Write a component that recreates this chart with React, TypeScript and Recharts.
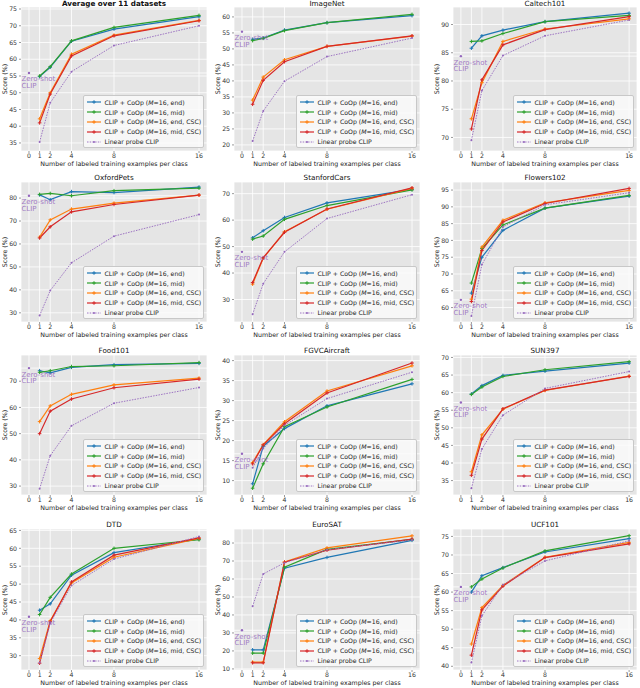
import React from 'react'
import { LineChart, Line, XAxis, YAxis, CartesianGrid, ReferenceLine } from 'recharts'

const datasets = [
  'Average over 11 datasets', 'ImageNet', 'Caltech101', 'OxfordPets', 'StanfordCars', 'Flowers102',
  'Food101', 'FGVCAircraft', 'SUN397', 'DTD', 'EuroSAT', 'UCF101',
]
const shots = [1, 2, 4, 8, 16]
const xTicks = [0, 1, 2, 4, 8, 16]
const zeroShot = [55.9, 55.4, 84.4, 81.0, 48.0, 62.3, 75.0, 16.7, 57.2, 40.9, 31.5, 61.4]

const coopEnd = [
  [54.8, 57.6, 65.4, 69.0, 72.7],
  [53.0, 53.4, 55.9, 58.2, 60.4],
  [85.8, 88.0, 89.0, 90.5, 92.0],
  [81.4, 79.3, 82.8, 82.4, 84.8],
  [53.3, 56.0, 61.0, 66.5, 71.6],
  [64.3, 75.0, 83.0, 89.6, 93.2],
  [74.0, 73.2, 75.3, 76.3, 76.8],
  [9.2, 18.6, 23.0, 28.7, 34.2],
  [59.6, 62.0, 64.9, 66.1, 68.4],
  [42.7, 44.5, 52.5, 58.8, 62.6],
  [20.6, 20.6, 66.0, 72.0, 81.5],
  [60.0, 64.4, 66.6, 70.8, 74.4],
]
const coopMid = [
  [55.0, 57.8, 65.5, 69.5, 73.1],
  [52.6, 53.3, 55.7, 58.2, 60.8],
  [87.0, 87.1, 88.4, 90.5, 91.6],
  [81.6, 82.0, 81.0, 83.2, 84.3],
  [52.8, 54.0, 60.3, 65.5, 71.4],
  [67.3, 77.6, 84.6, 89.6, 93.4],
  [73.4, 74.0, 75.6, 75.9, 77.1],
  [8.1, 14.2, 23.5, 28.4, 35.3],
  [59.5, 61.6, 64.6, 66.5, 68.8],
  [41.5, 46.3, 52.8, 60.0, 62.4],
  [18.8, 18.8, 66.5, 76.5, 82.0],
  [61.4, 63.5, 66.5, 71.1, 75.2],
]
const coopEndCsc = [
  [42.2, 50.0, 61.5, 67.2, 71.6],
  [34.0, 41.2, 46.6, 50.8, 54.0],
  [73.3, 79.7, 87.0, 89.2, 91.0],
  [63.0, 70.5, 75.2, 77.8, 81.3],
  [35.8, 45.6, 55.6, 64.1, 72.0],
  [62.5, 78.0, 86.0, 91.2, 94.9],
  [54.6, 60.6, 65.0, 68.6, 71.2],
  [14.5, 19.0, 24.7, 32.4, 38.7],
  [37.5, 48.0, 55.3, 60.6, 64.7],
  [29.2, 39.8, 50.3, 57.5, 62.8],
  [13.8, 13.8, 69.5, 77.3, 84.0],
  [46.0, 55.8, 61.8, 69.4, 73.4],
]
const coopMidCsc = [
  [41.0, 49.6, 61.0, 67.0, 71.5],
  [32.7, 40.2, 46.0, 50.8, 54.1],
  [71.5, 80.2, 86.4, 89.1, 91.4],
  [62.6, 67.5, 74.0, 77.2, 81.3],
  [36.4, 45.8, 55.4, 64.2, 72.2],
  [61.8, 77.0, 85.5, 91.0, 95.5],
  [50.0, 58.6, 63.2, 67.5, 70.8],
  [14.2, 18.9, 24.2, 31.9, 39.4],
  [36.5, 46.8, 55.4, 60.7, 64.6],
  [27.9, 39.5, 50.6, 58.1, 62.9],
  [13.4, 13.4, 69.3, 76.0, 82.2],
  [43.0, 55.2, 61.6, 69.3, 73.0],
]
const linearProbe = [
  [35.3, 47.0, 56.3, 64.1, 70.0],
  [21.2, 30.6, 39.9, 47.6, 53.4],
  [69.5, 78.3, 84.5, 88.0, 90.8],
  [28.8, 39.7, 51.8, 63.4, 72.8],
  [24.4, 36.0, 48.0, 60.6, 69.6],
  [57.5, 72.8, 84.0, 90.6, 94.2],
  [29.0, 41.6, 53.0, 61.6, 67.6],
  [13.2, 18.0, 23.8, 30.5, 37.1],
  [32.8, 44.0, 53.6, 61.2, 66.0],
  [28.0, 39.1, 49.6, 57.0, 63.3],
  [44.8, 62.8, 69.0, 76.3, 81.7],
  [41.0, 53.6, 62.0, 68.4, 73.8],
]

const yDomains = [
  [32.6, 75.6], [18.1, 63.1], [67.6, 93.1], [26, 87], [21.5, 74.4], [55.7, 97.4],
  [26.6, 80], [6.4, 41.4], [30.9, 70.7], [26, 65.4], [9.4, 87.8], [39, 77],
]
const yTicks = [
  [35, 40, 45, 50, 55, 60, 65, 70, 75],
  [20, 25, 30, 35, 40, 45, 50, 55, 60],
  [70, 75, 80, 85, 90],
  [30, 40, 50, 60, 70, 80],
  [30, 40, 50, 60, 70],
  [60, 65, 70, 75, 80, 85, 90, 95],
  [30, 40, 50, 60, 70],
  [10, 15, 20, 25, 30, 35, 40],
  [35, 40, 45, 50, 55, 60, 65, 70],
  [30, 35, 40, 45, 50, 55, 60, 65],
  [10, 20, 30, 40, 50, 60, 70, 80],
  [40, 45, 50, 55, 60, 65, 70, 75],
]

const series = [
  { key: 'end', name: 'end', color: '#1f77b4' },
  { key: 'mid', name: 'mid', color: '#2ca02c' },
  { key: 'endCsc', name: 'end, CSC', color: '#ff7f0e' },
  { key: 'midCsc', name: 'mid, CSC', color: '#d62728' },
]
const probeColor = '#9467bd'

// plot-area edges on the page
const colX0 = [21, 234, 453]
const colX1 = [207, 420, 637]
const rowY0 = [7, 182, 355, 529]
const rowY1 = [151, 322, 495, 670]

const FONT = '"DejaVu Sans", sans-serif'

const plusDot = (color: string) => (props: any) => {
  const { cx, cy, key } = props
  if (cx == null || cy == null || Number.isNaN(cy)) return <g key={key} />
  return (
    <path key={key} d={`M${cx - 1.8},${cy}H${cx + 1.8}M${cx},${cy - 1.8}V${cy + 1.8}`} stroke={color} strokeWidth={1} />
  )
}

const probeDot = (props: any) => {
  const { cx, cy, key } = props
  if (cx == null || cy == null || Number.isNaN(cy)) return <g key={key} />
  return <circle key={key} cx={cx} cy={cy} r={1} fill={probeColor} />
}

const zeroShotDot = (props: any) => {
  const { cx, cy, key } = props
  if (cx == null || cy == null || Number.isNaN(cy)) return <g key={key} />
  return (
    <g key={key}>
      <circle cx={cx} cy={cy} r={1.2} fill={probeColor} />
      <text x={cx - 7.5} y={cy + 8.5} fontSize={7} fill={probeColor} fillOpacity={0.85} fontFamily={FONT}>Zero-shot</text>
      <text x={cx - 7.5} y={cy + 15} fontSize={7} fill={probeColor} fillOpacity={0.85} fontFamily={FONT}>CLIP</text>
    </g>
  )
}

function Legend({ right, bottom }: { right: number; bottom: number }) {
  const w = 121
  const h = 53
  const label = (n: string) => (
    <span>CLIP + CoOp (<i>M</i>=16, {n})</span>
  )
  const rows = [
    ...series.map((s) => ({ color: s.color, dash: false, text: label(s.name) })),
    { color: probeColor, dash: true, text: <span>Linear probe CLIP</span> },
  ]
  return (
    <div
      style={{
        position: 'absolute', left: right - w, top: bottom - h, width: w, height: h,
        background: 'rgba(250,250,250,0.85)', border: '0.6px solid #c8c8c8', borderRadius: 2,
        boxSizing: 'border-box', paddingTop: 1.5,
      }}
    >
      {rows.map((r, i) => (
        <div key={i} style={{ display: 'flex', alignItems: 'center', height: 9.8, fontSize: 6.2, color: '#222', whiteSpace: 'nowrap' }}>
          <svg width={20} height={8} style={{ flex: 'none' }}>
            <line x1={3} y1={4} x2={17} y2={4} stroke={r.color} strokeWidth={r.dash ? 0.9 : 1.2} strokeDasharray={r.dash ? '1.5 1.2' : undefined} />
            {r.dash ? (
              <circle cx={10} cy={4} r={1} fill={r.color} />
            ) : (
              <path d="M8.2,4H11.8M10,2.2V5.8" stroke={r.color} strokeWidth={1} />
            )}
          </svg>
          <span style={{ marginLeft: 0.5 }}>{r.text}</span>
        </div>
      ))}
    </div>
  )
}

function Panel({ idx }: { idx: number }) {
  const col = idx % 3
  const row = Math.floor(idx / 3)
  const px = colX0[col]
  const pw = colX1[col] - px
  const py = rowY0[row]
  const ph = rowY1[row] - py
  const yAxisW = 24
  const xAxisH = 12
  const mt = 2
  const mr = 2

  const data = [
    { shot: 0, zs: zeroShot[idx] },
    ...shots.map((s, i) => ({
      shot: s,
      end: coopEnd[idx][i],
      mid: coopMid[idx][i],
      endCsc: coopEndCsc[idx][i],
      midCsc: coopMidCsc[idx][i],
      probe: linearProbe[idx][i],
    })),
  ]

  return (
    <>
      <div style={{ position: 'absolute', left: px - yAxisW, top: py - mt }}>
        <LineChart
          width={yAxisW + pw + mr}
          height={mt + ph + xAxisH}
          data={data}
          margin={{ top: mt, right: mr, bottom: 0, left: 0 }}
        >
          <CartesianGrid fill="#e5e5e5" stroke="#ffffff" strokeWidth={0.8} />
          <XAxis
            type="number"
            dataKey="shot"
            domain={[-0.75, 16.75]}
            ticks={xTicks}
            interval={0}
            allowDataOverflow
            axisLine={false}
            tickSize={2}
            tickMargin={1}
            height={xAxisH}
            tick={{ fontSize: 6.2, fill: '#333', fontFamily: FONT }}
            tickLine={{ stroke: '#555', strokeWidth: 0.6 }}
          />
          <YAxis
            type="number"
            domain={yDomains[idx]}
            ticks={yTicks[idx]}
            interval={0}
            allowDataOverflow
            axisLine={false}
            tickSize={2}
            tickMargin={2}
            width={yAxisW}
            tick={{ fontSize: 6.2, fill: '#333', fontFamily: FONT }}
            tickLine={{ stroke: '#555', strokeWidth: 0.6 }}
          />
          <ReferenceLine y={zeroShot[idx]} stroke="#ffffff" strokeWidth={0.9} strokeOpacity={0.9} />
          {series.map((s) => (
            <Line
              key={s.key}
              dataKey={s.key}
              stroke={s.color}
              strokeWidth={1.2}
              dot={plusDot(s.color)}
              activeDot={false}
              isAnimationActive={false}
            />
          ))}
          <Line
            dataKey="probe"
            stroke={probeColor}
            strokeWidth={0.9}
            strokeDasharray="1.5 1.2"
            dot={probeDot}
            activeDot={false}
            isAnimationActive={false}
          />
          <Line dataKey="zs" stroke="none" dot={zeroShotDot} activeDot={false} isAnimationActive={false} />
        </LineChart>
      </div>
      <div
        style={{
          position: 'absolute', left: px, width: pw, top: py - ph * 0 - 9.5, height: 9, lineHeight: '9px',
          textAlign: 'center', fontSize: 7.2, fontWeight: idx === 0 ? 'bold' : 'normal', color: '#111',
          ...(row === 0 ? { top: 0, lineHeight: '7px', height: 7 } : {}),
        }}
      >
        {datasets[idx]}
      </div>
      <div
        style={{
          position: 'absolute', left: px, width: pw, top: py + ph + 9, height: 8, lineHeight: '8px',
          textAlign: 'center', fontSize: 6.3, color: '#222',
        }}
      >
        Number of labeled training examples per class
      </div>
      <div
        style={{
          position: 'absolute', left: px - 16 - 30, top: py + ph / 2 - 4, width: 60, height: 8, lineHeight: '8px',
          textAlign: 'center', fontSize: 6.3, color: '#222', transform: 'rotate(-90deg)',
        }}
      >
        Score (%)
      </div>
      <Legend right={px + pw - 3} bottom={py + ph - 3} />
    </>
  )
}

export default function App() {
  return (
    <div
      style={{
        position: 'absolute', left: 0, top: 0, width: 640, height: 688,
        background: '#ffffff', fontFamily: FONT, overflow: 'hidden',
      }}
    >
      {datasets.map((_, i) => (
        <Panel key={i} idx={i} />
      ))}
    </div>
  )
}
